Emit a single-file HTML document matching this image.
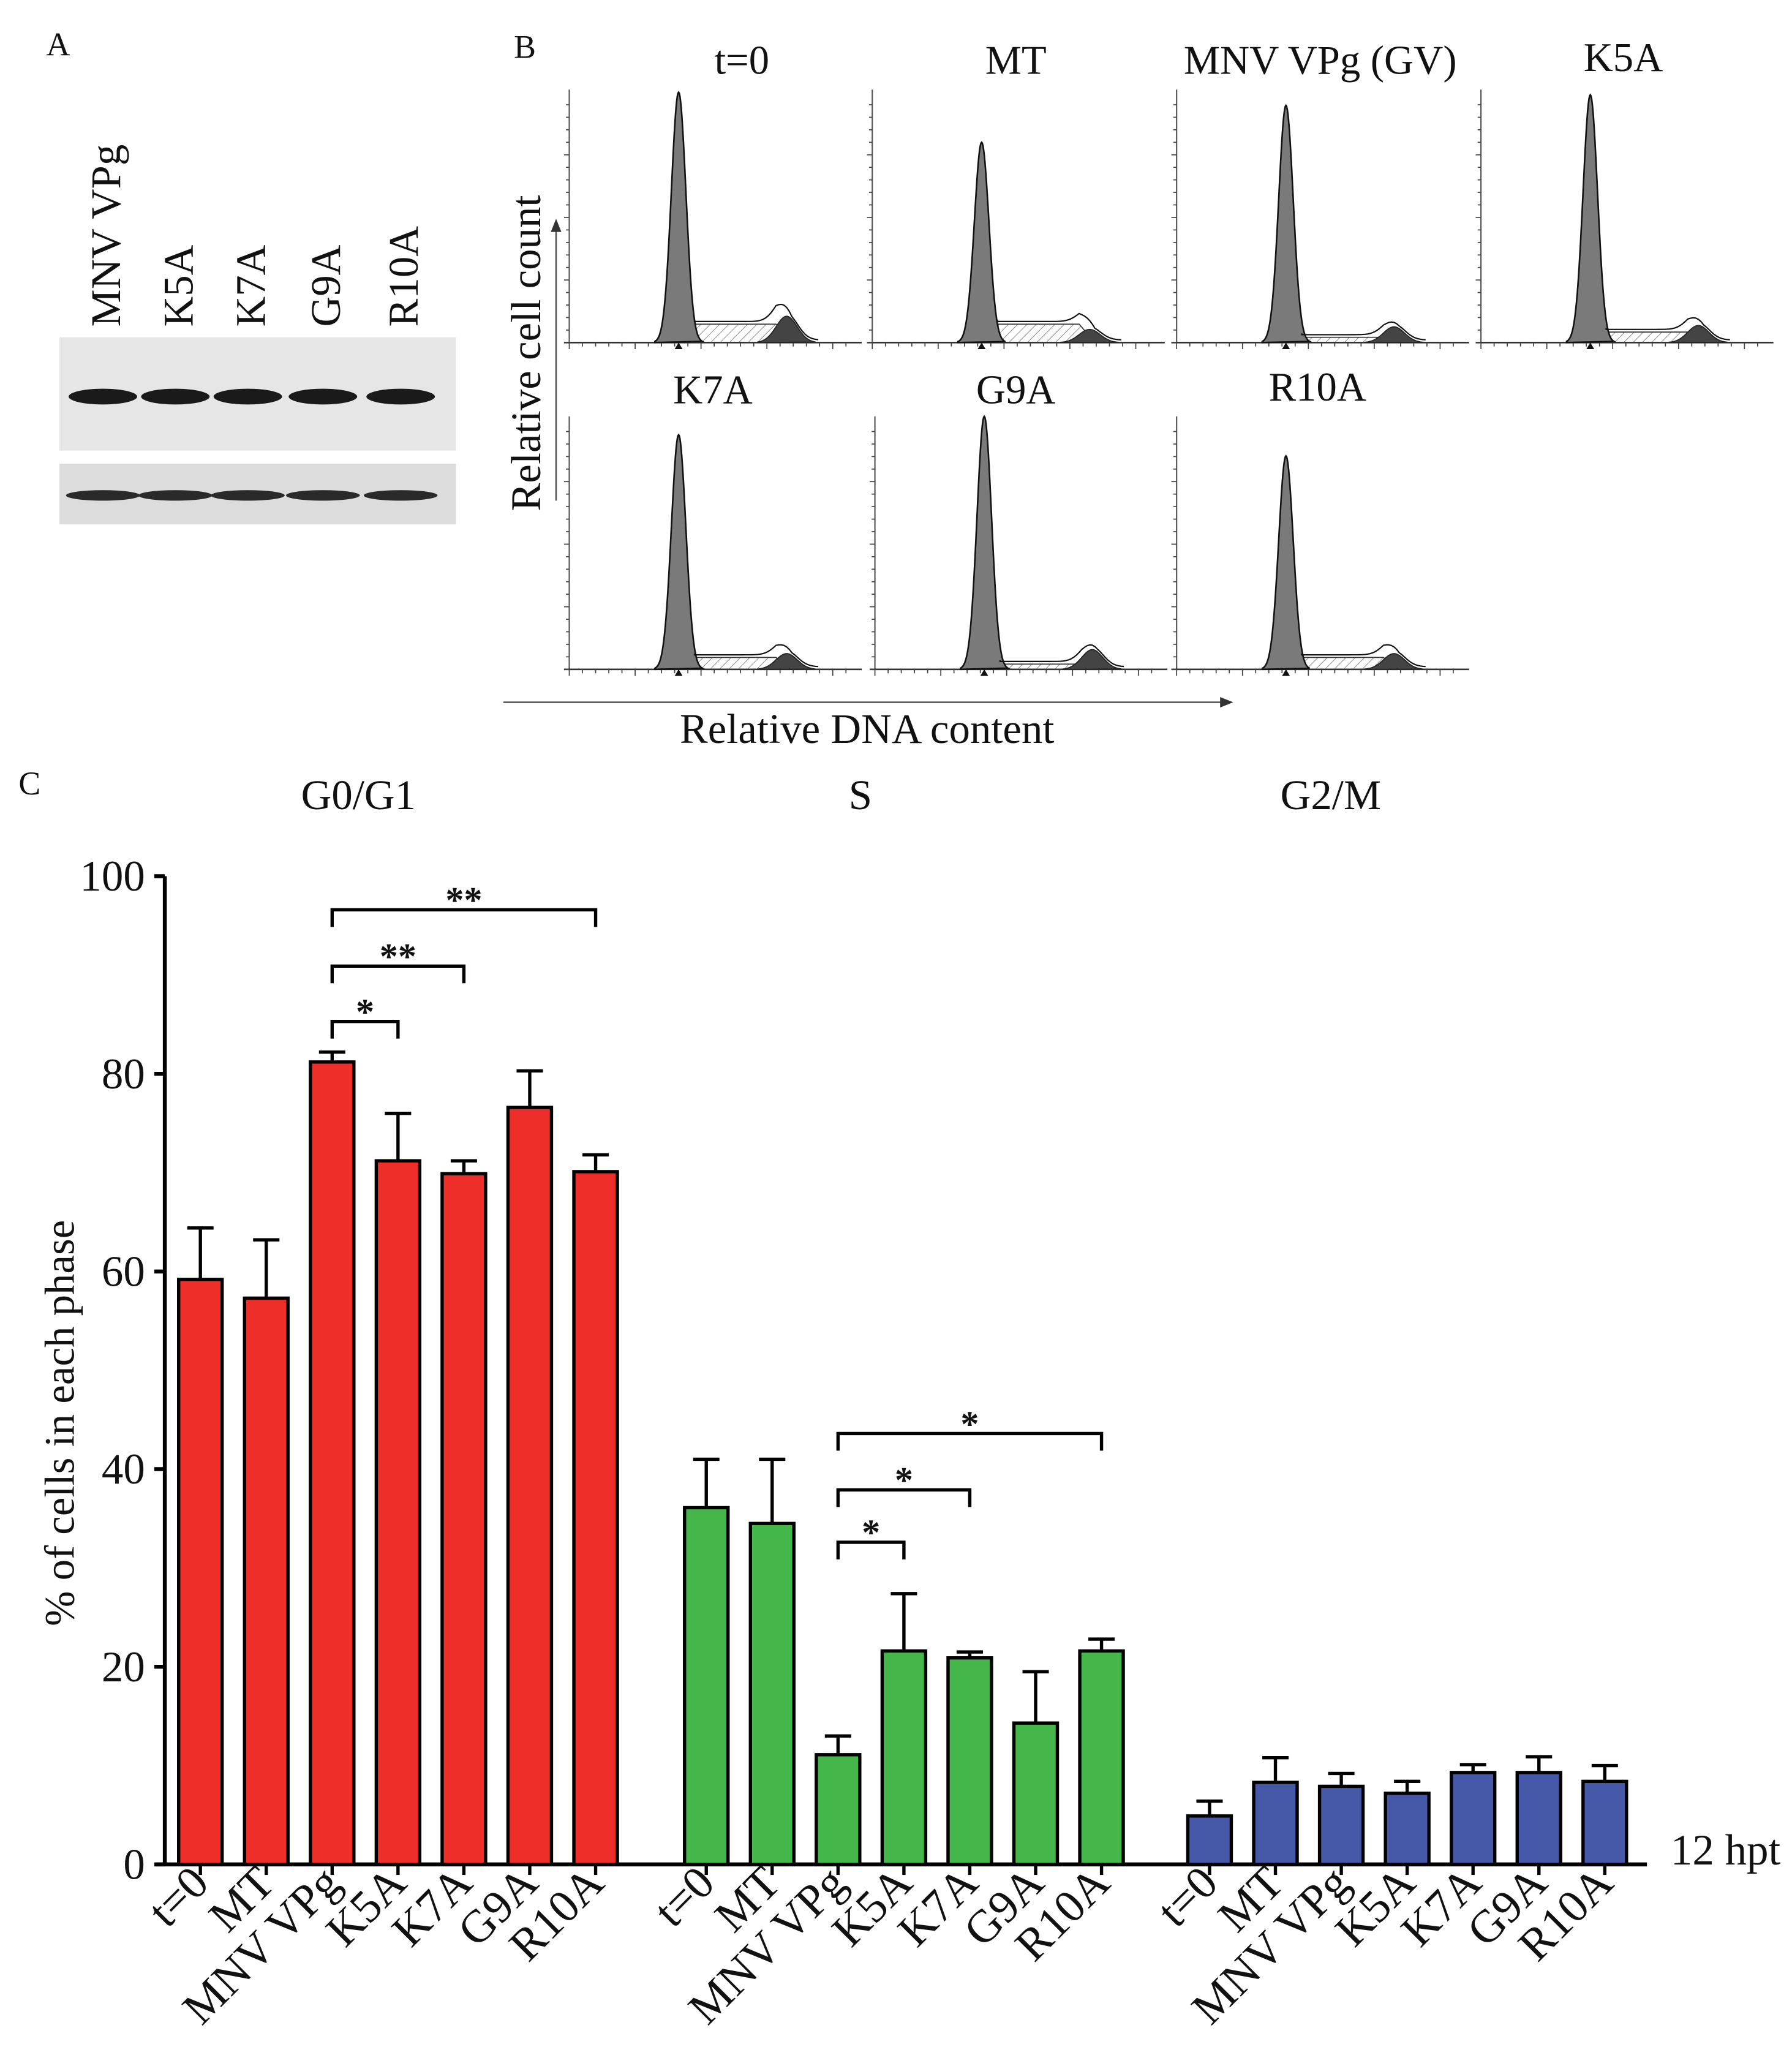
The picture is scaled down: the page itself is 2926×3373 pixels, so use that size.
<!DOCTYPE html>
<html><head><meta charset="utf-8"><style>
html,body{margin:0;padding:0;background:#fff}
svg{display:block}
text{font-family:"Liberation Serif",serif;fill:#111}
</style></head><body>
<svg id="fig" xmlns="http://www.w3.org/2000/svg" width="2926" height="3373" viewBox="0 0 1360 1568">
<defs>
<pattern id="hatch" patternUnits="userSpaceOnUse" width="5" height="5" patternTransform="rotate(45)">
<line x1="0" y1="0" x2="0" y2="5" stroke="#777" stroke-width="0.8"/>
</pattern>
</defs>
<g id="panelA">
<text x="35" y="42" font-size="25">A</text>
<rect x="45" y="256" width="301" height="86" fill="#e6e6e6"/>
<rect x="45" y="352" width="301" height="46" fill="#dcdcdc"/>
</g>
<g id="panelB">
<text x="390" y="44" font-size="25">B</text>
<text transform="translate(410,268) rotate(-90)" text-anchor="middle" font-size="32">Relative cell count</text>
<line x1="422" y1="380" x2="422" y2="174" stroke="#555" stroke-width="1.2"/>
<polygon points="418,176 426,176 422,166" fill="#333"/>
<line x1="382" y1="533" x2="928" y2="533" stroke="#555" stroke-width="1.2"/>
<polygon points="926,529 926,537 936,533" fill="#333"/>
<text x="658" y="564" text-anchor="middle" font-size="32">Relative DNA content</text>
</g>
<g id="panelC">
<text x="14" y="603" font-size="25">C</text>
<text x="272" y="614" text-anchor="middle" font-size="32">G0/G1</text>
<text x="653" y="614" text-anchor="middle" font-size="32">S</text>
<text x="1010" y="614" text-anchor="middle" font-size="32">G2/M</text>
<text transform="translate(56,1080) rotate(-90)" text-anchor="middle" font-size="32">% of cells in each phase</text>
<text x="1268" y="1415" font-size="33">12 hpt</text>
</g>
</svg>
<script>
const NS='http://www.w3.org/2000/svg';
const svg=document.getElementById('fig');
function mk(tag,attrs,parent){const e=document.createElementNS(NS,tag);for(const k in attrs)e.setAttribute(k,attrs[k]);(parent||svg).appendChild(e);return e;}

// ---- Panel A ----
const laneLabels=['MNV VPg','K5A','K7A','G9A','R10A'];
const laneX=[80,135,190,247,306];
const gA=document.getElementById('panelA');
laneLabels.forEach((l,i)=>{
 const t=mk('text',{transform:`translate(${laneX[i]+11},248) rotate(-90)`,'font-size':32},gA);t.textContent=l;
 
 
 const b1=mk('ellipse',{cx:laneX[i]-2,cy:301,rx:26,ry:6,fill:'#1a1a1a'},gA);
 
 
 const b2=mk('ellipse',{cx:laneX[i]-2,cy:376,rx:28,ry:4,fill:'#2a2a2a'},gA);
 
 
});

// ---- Panel B histograms ----
const histTitles=['t=0','MT','MNV VPg (GV)','K5A','K7A','G9A','R10A'];
const histG1Height=[190,152,180,188,178,192,162];
const histG2Height=[20,10,12,13,12,15,12];
const histSHeight=[14,14,4,8,9,4,9];
const histPosX=[432,662,893,1124,432,664,893];
const histBase=[260,260,260,260,508,508,508];
const titleX=[563,771,1002,1232,541,771,1000];
const titleY=[56,56,56,54,306,306,304];
const gB=document.getElementById('panelB');
histTitles.forEach((tt,i)=>{
 const x0=histPosX[i],b=histBase[i];
 const g=mk('g',{},gB);
 
 
 const t=mk('text',{x:titleX[i],y:titleY[i],'text-anchor':'middle','font-size':31},g);t.textContent=tt;
 mk('line',{x1:x0,y1:b,x2:x0,y2:b-192,stroke:'#555','stroke-width':1},g);
 mk('line',{x1:x0-4,y1:b,x2:x0+222,y2:b,stroke:'#333','stroke-width':1.2},g);
 for(let k=0;k<20;k++){mk('line',{x1:x0-(k%5==0?4:2.5),y1:b-k*9.5,x2:x0,y2:b-k*9.5,stroke:'#444','stroke-width':0.8},g);}
 for(let k=0;k<22;k++){mk('line',{x1:x0+k*10,y1:b,x2:x0+k*10,y2:b+(k%5==0?5:3),stroke:'#444','stroke-width':0.8},g);}
 const g1=x0+83,g2=x0+165,s1=5.5,s2=8;
 const H=histG1Height[i],H2=histG2Height[i],HS=histSHeight[i];
 let ps=`M${g1-10},${b}`;
 for(let x=g1-10;x<=g2+4;x+=2){const r=Math.min(1,(x-g1+10)/10)*Math.min(1,(g2+4-x)/12);ps+=` L${x},${b-HS*r}`;}
 ps+=` L${g2+4},${b} Z`;
 mk('path',{d:ps,fill:'url(#hatch)',stroke:'#333','stroke-width':0.8},g);
 let p2=`M${g2-22},${b}`;for(let x=g2-22;x<=g2+22;x+=1){p2+=` L${x},${b-H2*Math.exp(-((x-g2)**2)/(2*s2*s2))}`;}p2+=' Z';
 mk('path',{d:p2,fill:'#444',stroke:'#222','stroke-width':0.8},g);
 let p1=`M${g1-18},${b}`;for(let x=g1-18;x<=g1+18;x+=0.5){p1+=` L${x},${b-H*Math.exp(-((x-g1)**2)/(2*s1*s1))}`;}p1+=' Z';
 mk('path',{d:p1,fill:'#7a7a7a',stroke:'#111','stroke-width':1.2},g);
 let pe=`M${g1+12},${b-HS-3}`;for(let x=g1+12;x<=g2+25;x+=2){const r=Math.min(1,(g2+4-x)/12);pe+=` L${x},${b-Math.max(HS*Math.max(r,0),0)-H2*Math.exp(-((x-g2)**2)/(2*s2*s2))-2}`;}
 mk('path',{d:pe,fill:'none',stroke:'#111','stroke-width':1},g);
 mk('polygon',{points:`${g1-3},${b+5} ${g1+3},${b+5} ${g1},${b}`,fill:'#111'},g);
});

// ---- Panel C bar chart ----
const categories=['t=0','MT','MNV VPg','K5A','K7A','G9A','R10A'];
const g0g1Values=[59.2,57.3,81.2,71.2,69.9,76.6,70.1];
const g0g1ErrTop=[64.4,63.2,82.2,76.0,71.2,80.3,71.8];
const sValues=[36.1,34.5,11.1,21.6,20.9,14.3,21.6];
const sErrTop=[41.0,41.0,13.0,27.4,21.5,19.5,22.8];
const g2mValues=[4.9,8.3,7.9,7.2,9.3,9.3,8.4];
const g2mErrTop=[6.4,10.8,9.2,8.4,10.1,10.9,10.0];
const yTicks=[0,20,40,60,80,100];
const groupNames=['g0g1','s','g2m'];
const groupColors=['#ee2e29','#45b649','#4659a9'];
const groupStart=[152,536,918];
const sigG0G1=[[2,3,'*',85.3],[2,4,'**',90.9],[2,6,'**',96.6]];
const sigS=[[2,3,'*',32.6],[2,4,'*',37.9],[2,6,'*',43.6]];

const y0=1415,y100=665;
const yS=v=>y0-(y0-y100)*v/100;
const xS=(g,i)=>groupStart[g]+i*50;
const gC=document.getElementById('panelC');
const ax=mk('line',{x1:125,y1:y0,x2:125,y2:y100,stroke:'#000','stroke-width':3},gC);


const xa=mk('line',{x1:118,y1:y0,x2:1250,y2:y0,stroke:'#000','stroke-width':3},gC);


yTicks.forEach(v=>{
 mk('line',{x1:117,y1:yS(v),x2:125,y2:yS(v),stroke:'#000','stroke-width':3},gC);
 const t=mk('text',{x:110,y:yS(v)+11,'text-anchor':'end','font-size':33},gC);t.textContent=v;
 
 
});
const series=[[g0g1Values,g0g1ErrTop],[sValues,sErrTop],[g2mValues,g2mErrTop]];
series.forEach(([vals,errs],g)=>{
 vals.forEach((v,i)=>{
  const cx=xS(g,i);
  const e=mk('line',{x1:cx,y1:yS(v),x2:cx,y2:yS(errs[i]),stroke:'#000','stroke-width':2.5},gC);
  
  
  mk('line',{x1:cx-10,y1:yS(errs[i]),x2:cx+10,y2:yS(errs[i]),stroke:'#000','stroke-width':2.5},gC);
  const r=mk('rect',{x:cx-16.5,y:yS(v),width:33,height:y0-yS(v),fill:groupColors[g],stroke:'#000','stroke-width':2.5},gC);
  
  
  mk('line',{x1:cx,y1:y0,x2:cx,y2:y0+8,stroke:'#000','stroke-width':2.5},gC);
  const t=mk('text',{transform:`translate(${cx+8},${y0+16}) rotate(-45)`,'text-anchor':'end','font-size':35},gC);
  t.textContent=categories[i];
  
  
 });
});
[[0,sigG0G1],[1,sigS]].forEach(([g,list])=>{
 list.forEach(([a,b,s,v])=>{
  const xa=xS(g,a),xb=xS(g,b),y=yS(v);
  const p=mk('path',{d:`M${xa},${y+13} L${xa},${y} L${xb},${y} L${xb},${y+13}`,fill:'none',stroke:'#000','stroke-width':2.5},gC);
  
  
  const t=mk('text',{x:(xa+xb)/2,y:y+2,'text-anchor':'middle','font-size':28,'font-weight':'bold','font-family':'Liberation Sans, sans-serif'},gC);
  t.textContent=s;
  
  
 });
});
</script>
</body></html>
